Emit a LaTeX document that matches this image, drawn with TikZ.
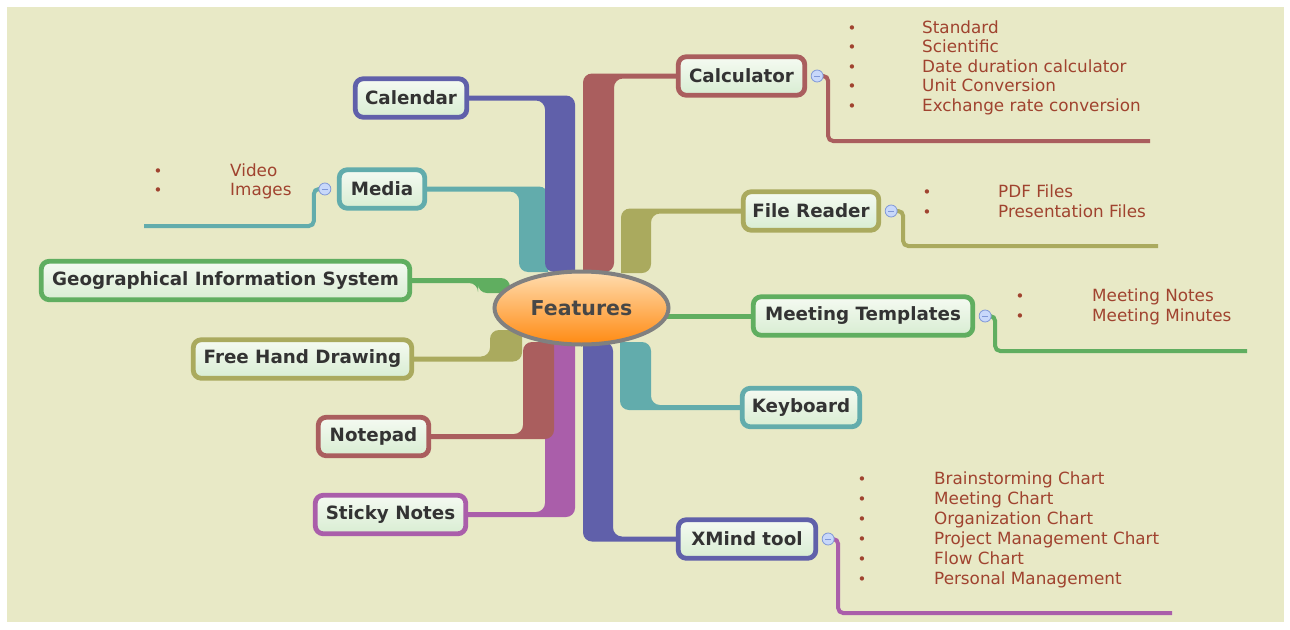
\documentclass[tikz,border=0pt]{standalone}
\usepackage{fontspec}
\setmainfont{DejaVu Sans}
\usetikzlibrary{shapes.geometric,calc,backgrounds}

\definecolor{bg-beige}{HTML}{E8E9C6}
\definecolor{calc-red}{HTML}{AA5E5E}
\definecolor{deep-blue}{HTML}{6060AA}
\definecolor{sea-teal}{HTML}{62ACAC}
\definecolor{branch-olive}{HTML}{AAAA5E}
\definecolor{leaf-green}{HTML}{60AE60}
\definecolor{plum}{HTML}{AA5EAA}
\definecolor{item-red}{HTML}{A0432F}
\definecolor{label-gray}{HTML}{333333}
\definecolor{box-top}{HTML}{F5FAF2}
\definecolor{box-bottom}{HTML}{D8EDD2}
\definecolor{hub-gray}{HTML}{808080}
\definecolor{hub-top}{HTML}{FFDDB0}
\definecolor{hub-mid}{HTML}{FFAA55}
\definecolor{hub-bottom}{HTML}{FF8A12}
\definecolor{icon-blue}{HTML}{C8D8FA}
\definecolor{icon-edge}{HTML}{8098D8}

\tikzset{
    hub/.style = {ellipse, draw=hub-gray, line width=4pt, top color=hub-top, middle color=hub-mid, bottom color=hub-bottom, minimum width=174pt, minimum height=73pt, inner sep=0pt, text=label-gray!90, font=\fontsize{20.5}{24}\selectfont\bfseries},
    topic-box/.style = {draw=#1, line width=4.8pt, rounded corners=8pt, top color=box-top, bottom color=box-bottom, minimum height=38.5pt, inner xsep=0pt, text=label-gray, font=\fontsize{18.3}{21}\selectfont\bfseries},
    collapse-icon/.style = {circle, draw=icon-edge, fill=icon-blue, line width=0.8pt, minimum size=12pt, inner sep=0pt,
        path picture={\draw[icon-edge, line width=1pt] ([xshift=-3pt]path picture bounding box.center) -- ([xshift=3pt]path picture bounding box.center);}},
    item-text/.style = {anchor=west, inner sep=0pt, text=item-red, text height=12pt, text depth=3.5pt, font=\fontsize{16.8}{19}\selectfont},
    item-dot/.style = {inner sep=0pt, text=item-red, text height=12pt, text depth=3.5pt, font=\fontsize{15}{19}\selectfont},
    subline/.style = {draw=#1, line width=4pt, rounded corners=5pt},
}

\begin{document}
\begin{tikzpicture}[x=1pt, y=-1pt]
\useasboundingbox (0,0) rectangle (1290,629);

% central topic
\node[hub] (features) at (581.5,308) {Features};

% right branches
\node[topic-box=calc-red, minimum width=126.5pt] (calc) at (741.5,76) {Calculator};
\node[topic-box=branch-olive, minimum width=135.5pt] (fread) at (811,211) {File Reader};
\node[topic-box=leaf-green, minimum width=219.5pt] (meet) at (863,316) {Meeting Templates};
\node[topic-box=sea-teal, minimum width=117.5pt] (keyb) at (801,407.5) {Keyboard};
\node[topic-box=deep-blue, minimum width=137.5pt] (xmind) at (747,539) {XMind tool};

% left branches
\node[topic-box=deep-blue, minimum width=111.5pt] (cal) at (411,98) {Calendar};
\node[topic-box=sea-teal, minimum width=85.5pt] (media) at (382,189) {Media};
\node[topic-box=leaf-green, minimum width=368.5pt] (gis) at (225.5,280.5) {Geographical Information System};
\node[topic-box=branch-olive, minimum width=218.5pt] (fhd) at (302.5,359) {Free Hand Drawing};
\node[topic-box=calc-red, minimum width=110.5pt] (notepad) at (373.5,436.5) {Notepad};
\node[topic-box=plum, minimum width=150.5pt] (sticky) at (390.5,514.5) {Sticky Notes};

% collapse icons
\node[collapse-icon] (calc-fold) at ([xshift=10pt]calc.east) {};
\node[collapse-icon] (fread-fold) at ([xshift=10pt]fread.east) {};
\node[collapse-icon] (meet-fold) at ([xshift=10pt]meet.east) {};
\node[collapse-icon] (xmind-fold) at ([xshift=10pt]xmind.east) {};
\node[collapse-icon] (media-fold) at ([xshift=-12pt]media.west) {};

% ends of the subtopic lines
\coordinate (calc-tail) at (1150,141);
\coordinate (fread-tail) at (1158,246);
\coordinate (meet-tail) at (1247,351);
\coordinate (xmind-tail) at (1172,613);
\coordinate (media-tail) at (144,226);

% subtopic lists
\foreach \txt [count=\i from 0] in {Standard,Scientific,Date duration calculator,Unit Conversion,Exchange rate conversion}{
    \node[item-dot] (calc-dot-\i) at (852,29+19.5*\i) {•};
    \node[item-text] (calc-item-\i) at (922,29+19.5*\i) {\txt};
}
\foreach \txt [count=\i from 0] in {PDF Files,Presentation Files}{
    \node[item-dot] (fread-dot-\i) at (927,193+20*\i) {•};
    \node[item-text] (fread-item-\i) at (998,193+20*\i) {\txt};
}
\foreach \txt [count=\i from 0] in {Meeting Notes,Meeting Minutes}{
    \node[item-dot] (meet-dot-\i) at (1020,297+20*\i) {•};
    \node[item-text] (meet-item-\i) at (1092,297+20*\i) {\txt};
}
\foreach \txt [count=\i from 0] in {Brainstorming Chart,Meeting Chart,Organization Chart,Project Management Chart,Flow Chart,Personal Management}{
    \node[item-dot] (xmind-dot-\i) at (862,480+20*\i) {•};
    \node[item-text] (xmind-item-\i) at (934,480+20*\i) {\txt};
}
\foreach \txt [count=\i from 0] in {Video,Images}{
    \node[item-dot] (media-dot-\i) at (158,172+19*\i) {•};
    \node[item-text] (media-item-\i) at (230,172+19*\i) {\txt};
}

\begin{scope}[on background layer]
\fill[white] (0,0) rectangle (1290,629);
\fill[bg-beige] (7,7) rectangle (1284,622);

% branches going up
\fill[calc-red] ($(features.center)+(1.5,-36)$) [rounded corners=9pt] |- ([yshift=2.5pt]calc.center) -- ([yshift=-2.5pt]calc.center) -| ($(features.center)+(32.5,-36)$) [sharp corners] -- cycle;
\fill[branch-olive] ($(features.center)+(39.5,-35)$) [rounded corners=9pt] |- ([yshift=2.5pt]fread.center) -- ([yshift=-2.5pt]fread.center) -| ($(features.center)+(69.5,-35)$) [sharp corners] -- cycle;
\fill[sea-teal] ($(features.center)+(-33.5,-36)$) [rounded corners=9pt] |- ([yshift=2.5pt]media.center) -- ([yshift=-2.5pt]media.center) -| ($(features.center)+(-62.5,-36)$) [sharp corners] -- cycle;
\fill[deep-blue] ($(features.center)+(-6.5,-36)$) [rounded corners=9pt] |- ([yshift=2.5pt]cal.center) -- ([yshift=-2.5pt]cal.center) -| ($(features.center)+(-36.5,-36)$) [sharp corners] -- cycle;
\fill[leaf-green] ($(features.center)+(-71.5,-15)$) [rounded corners=9pt] |- ([yshift=2.5pt]gis.center) -- ([yshift=-2.5pt]gis.center) -| ($(features.center)+(-103.5,-15)$) [sharp corners] -- cycle;

% branches going down
\fill[sea-teal] ($(features.center)+(38.5,34)$) [rounded corners=9pt] |- ([yshift=-2.5pt]keyb.center) -- ([yshift=2.5pt]keyb.center) -| ($(features.center)+(69.5,34)$) [sharp corners] -- cycle;
\fill[deep-blue] ($(features.center)+(1.5,34)$) [rounded corners=9pt] |- ([yshift=-2.5pt]xmind.center) -- ([yshift=2.5pt]xmind.center) -| ($(features.center)+(31.5,34)$) [sharp corners] -- cycle;
\fill[plum] ($(features.center)+(-6.5,34)$) [rounded corners=9pt] |- ([yshift=-2.5pt]sticky.center) -- ([yshift=2.5pt]sticky.center) -| ($(features.center)+(-36.5,34)$) [sharp corners] -- cycle;
\fill[calc-red] ($(features.center)+(-27.5,34)$) [rounded corners=9pt] |- ([yshift=-2.5pt]notepad.center) -- ([yshift=2.5pt]notepad.center) -| ($(features.center)+(-58.5,34)$) [sharp corners] -- cycle;
\fill[branch-olive] ($(features.center)+(-59.5,22)$) [rounded corners=9pt] |- ([yshift=-2.5pt]fhd.center) -- ([yshift=2.5pt]fhd.center) -| ($(features.center)+(-91.5,22)$) [sharp corners] -- cycle;

% straight branch
\draw[leaf-green, line width=5pt] (features.center |- meet.center) -- (meet.center);

% subtopic lines
\draw[subline=calc-red] (calc-fold.center) -- ++(11,0) |- (calc-tail);
\draw[subline=branch-olive] (fread-fold.center) -- ++(12,0) |- (fread-tail);
\draw[subline=leaf-green] (meet-fold.center) -- ++(10,0) |- (meet-tail);
\draw[subline=plum] (xmind-fold.center) -- ++(10,0) |- (xmind-tail);
\draw[subline=sea-teal] (media-fold.center) -- ++(-11,0) |- (media-tail);
\end{scope}
\end{tikzpicture}
\end{document}
